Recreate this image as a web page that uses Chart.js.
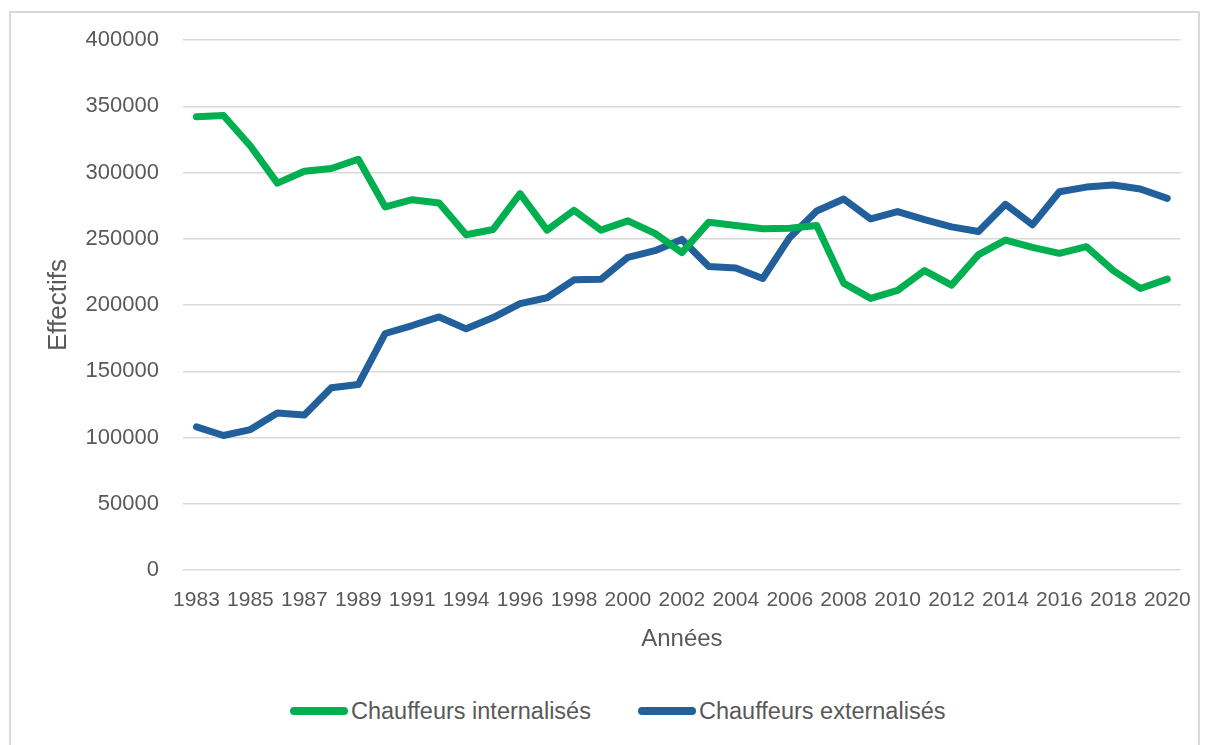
<!DOCTYPE html>
<html>
<head>
<meta charset="utf-8">
<script src="https://cdn.jsdelivr.net/npm/chart.js"></script>
<style>
  body { margin: 0; background: #fff; font-family: 'Liberation Sans', Arial, sans-serif; }
  #frame { position: absolute; left: 9px; top: 11px; width: 1191px; height: 800px; border: 2px solid #d9d9d9; box-sizing: border-box; }
  #wrap { position: absolute; left: 0; top: 0; width: 1209px; height: 690px; }
  .legend-item { position: absolute; top: 697px; height: 28px; display: flex; align-items: center; color: #595959; font-size: 23.5px; }
  .legend-color { display: inline-block; width: 58px; height: 8px; border-radius: 4px; margin-right: 3px; }
</style>
</head>
<body>
<div id="frame"></div>
<div id="wrap"><canvas id="lineChart"></canvas></div>
<div id="chartLegend"></div>
<script>
const years = ['1983','1984','1985','1986','1987','1988','1989','1990','1991','1993',
  '1994','1995','1996','1997','1998','1999','2000','2001','2002','2003','2004','2005',
  '2006','2007','2008','2009','2010','2011','2012','2013','2014','2015','2016','2017',
  '2018','2019','2020'];

const internalises = [342000, 343000, 320000, 292000, 301000, 303000, 310000, 274000, 279500,
  277000, 253000, 257000, 284000, 256500, 271500, 256500, 263500, 254000, 239500,
  262500, 260000, 257500, 258000, 260000, 216500, 205000, 211000, 226000, 215000,
  238000, 249000, 243500, 239000, 244000, 226000, 212500, 219500];

const externalises = [108000, 101500, 106000, 118500, 117000, 137500, 140000, 178500, 184500,
  191000, 182000, 190500, 201000, 205500, 219000, 219500, 236000, 241000, 249500,
  229000, 228000, 220000, 251000, 271000, 280000, 265000, 270500, 264500, 259000,
  255500, 276000, 260500, 285500, 289000, 290500, 287500, 280500];

const seriesNames = ['Chauffeurs internalisés', 'Chauffeurs externalisés'];
const solidColors = ['#00b050', '#22609c'];

const textColor = '#595959';
const gridColor = '#d9d9d9';

const ctx = document.getElementById('lineChart').getContext('2d');
const chart = new Chart(ctx, {
  type: 'line',
  data: {
    labels: years,
    datasets: [internalises, externalises].map((values, i) => ({
      label: seriesNames[i],
      data: values,
      borderColor: solidColors[i],
      backgroundColor: solidColors[i],
      borderWidth: 7,
      borderCapStyle: 'round',
      borderJoinStyle: 'round',
      pointRadius: 0,
      tension: 0
    }))
  },
  options: {
    responsive: true,
    maintainAspectRatio: false,
    animation: false,
    layout: { padding: { top: 40, right: 28, bottom: 20, left: 0 } },
    plugins: {
      legend: { display: false },
      tooltip: { enabled: false }
    },
    scales: {
      x: {
        offset: true,
        grid: { display: false, drawTicks: false },
        border: { display: false },
        afterFit: scale => { scale.height = 100; },
        ticks: {
          autoSkip: false,
          maxRotation: 0,
          minRotation: 0,
          padding: 18,
          color: textColor,
          font: { family: "'Liberation Sans Narrow', 'Liberation Sans', Arial", size: 21 },
          callback: function(value, index) {
            return index % 2 === 0 ? this.getLabelForValue(value) : '';
          }
        },
        title: {
          display: true,
          text: 'Années',
          color: textColor,
          font: { family: "'Liberation Sans', Arial", size: 24 },
          padding: { top: 0, bottom: 16 }
        }
      },
      y: {
        min: 0,
        max: 400000,
        afterFit: scale => { scale.width = 183; },
        grid: { color: gridColor, lineWidth: 1.5, drawTicks: false },
        border: { display: false },
        ticks: {
          stepSize: 50000,
          padding: 24,
          color: textColor,
          font: { family: "'Liberation Sans', Arial", size: 22 },
          callback: value => String(value)
        },
        title: {
          display: true,
          text: 'Effectifs',
          color: textColor,
          font: { family: "'Liberation Sans', Arial", size: 26 },
          padding: { top: 43, bottom: 0 }
        }
      }
    }
  }
});

const legend = document.getElementById('chartLegend');
const legendLeft = [290, 638];
seriesNames.forEach((name, i) => {
  const item = document.createElement('div');
  item.className = 'legend-item';
  item.style.left = legendLeft[i] + 'px';
  item.innerHTML = `<span class="legend-color" style="background:${solidColors[i]}"></span>${name}`;
  legend.appendChild(item);
});
</script>
</body>
</html>
